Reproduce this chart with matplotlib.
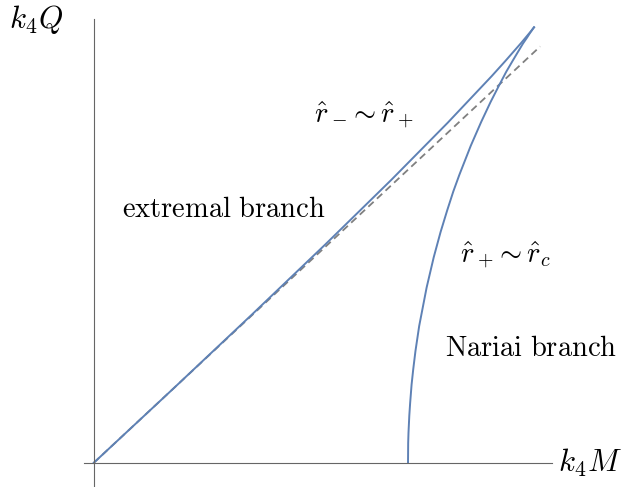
import matplotlib
matplotlib.use("Agg")
import matplotlib.pyplot as plt

plt.rcParams["mathtext.fontset"] = "cm"

# Extremal branch (r- ~ r+): (k4 M, k4 Q)
ext_M = [0.0, 0.0498, 0.0980, 0.1433, 0.1840, 0.2188, 0.2460, 0.2545, 0.2643,
         0.2703, 0.2714, 0.2720, 0.2722]
ext_Q = [0.0, 0.0498, 0.0985, 0.1449, 0.1876, 0.2254, 0.2563, 0.2664, 0.2784,
         0.2861, 0.2876, 0.2884, 0.2887]

# Nariai branch (r+ ~ rc)
nar_M = [0.2722, 0.2718, 0.2710, 0.2697, 0.2679, 0.2654, 0.2626, 0.2591, 0.2550,
         0.2505, 0.2453, 0.2395, 0.2331, 0.2261, 0.2223, 0.2185, 0.2144, 0.2102,
         0.2058, 0.2012, 0.1989, 0.1975, 0.1965, 0.1956, 0.1951, 0.1946, 0.1944,
         0.1943]
nar_Q = [0.2887, 0.2882, 0.2869, 0.2849, 0.2819, 0.2780, 0.2730, 0.2667, 0.2592,
         0.2500, 0.2391, 0.2259, 0.2102, 0.1911, 0.1799, 0.1673, 0.1529, 0.1363,
         0.1162, 0.0907, 0.0741, 0.0618, 0.0518, 0.0394, 0.0314, 0.0201, 0.0132,
         0.0]

# reference line Q = M
diag_M = [0.0, 0.276]
diag_Q = [0.0, 0.276]

blue = "#5e81b5"
axis_gray = "#666666"

fig = plt.figure(figsize=(6.21, 4.87), dpi=100)
ax = fig.add_axes([84 / 621, 0.0, (551.5 - 84) / 621, (487 - 19) / 487])

ax.plot(diag_M, diag_Q, color="#808080", lw=1.3, ls=(0, (4, 2.5)))
ax.plot(ext_M, ext_Q, color=blue, lw=1.4)
ax.plot(nar_M, nar_Q, color=blue, lw=1.4)

ax.set_xlim(-0.006, 0.283)
ax.set_ylim(-0.016, 0.2942)

for side in ["top", "right"]:
    ax.spines[side].set_visible(False)
ax.spines["left"].set_position(("data", 0))
ax.spines["bottom"].set_position(("data", 0))
for side in ["left", "bottom"]:
    ax.spines[side].set_color(axis_gray)
    ax.spines[side].set_linewidth(0.8)
ax.set_xticks([])
ax.set_yticks([])
ax.patch.set_alpha(0)

fs = 20.5
fs_ax = 22.5
fig.text(36 / 621, 1 - 20 / 487, r"$k_4Q$", fontsize=fs_ax, ha="center", va="center")
fig.text(590 / 621, 1 - 463 / 487, r"$k_4M$", fontsize=fs_ax, ha="center", va="center")
fig.text(224 / 621, 1 - 209 / 487, r"$\mathrm{extremal\ branch}$", fontsize=fs,
         ha="center", va="center")
fig.text(364 / 621, 1 - 115 / 487, r"$\hat{r}_-\!\sim\hat{r}_+$", fontsize=fs,
         ha="center", va="center")
fig.text(506 / 621, 1 - 255 / 487, r"$\hat{r}_+\!\sim\hat{r}_c$", fontsize=fs,
         ha="center", va="center")
fig.text(531 / 621, 1 - 348 / 487, r"$\mathrm{Nariai\ branch}$", fontsize=fs,
         ha="center", va="center")

fig.savefig("out.png", dpi=100)
